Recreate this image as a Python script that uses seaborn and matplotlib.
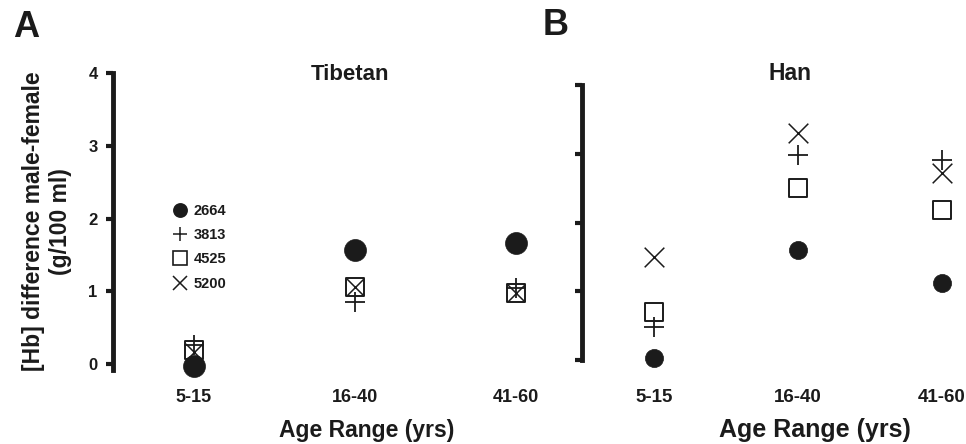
import matplotlib
matplotlib.use("Agg")
import matplotlib.pyplot as plt
from matplotlib.lines import Line2D
import pandas as pd
import seaborn as sns

# values (Hb difference male - female, g/100 ml)
age_groups = ["5-15", "16-40", "41-60"]
alleles = ["2664", "3813", "4525", "5200"]

tibetan_2664 = [-0.03, 1.57, 1.67]
tibetan_3813 = [0.26, 0.86, 1.05]
tibetan_4525 = [0.19, 1.06, 0.98]
tibetan_5200 = [0.17, 1.06, 0.98]

han_2664 = [0.03, 1.60, 1.12]
han_3813 = [0.48, 2.98, 2.91]
han_4525 = [0.70, 2.50, 2.18]
han_5200 = [1.50, 3.30, 2.72]

series = {
    ("Tibetan", "2664"): tibetan_2664,
    ("Tibetan", "3813"): tibetan_3813,
    ("Tibetan", "4525"): tibetan_4525,
    ("Tibetan", "5200"): tibetan_5200,
    ("Han", "2664"): han_2664,
    ("Han", "3813"): han_3813,
    ("Han", "4525"): han_4525,
    ("Han", "5200"): han_5200,
}
rows = []
for (pop, allele), vals in series.items():
    for age, v in zip(age_groups, vals):
        rows.append({"population": pop, "allele": allele, "age": age, "hb_diff": v})
df = pd.DataFrame(rows)

sns.set_theme(style="white")
plt.rcParams["font.family"] = ["Liberation Sans", "DejaVu Sans"]
plt.rcParams["font.weight"] = "bold"

INK = "#1b1b1b"
W, H = 966, 444
fig = plt.figure(figsize=(W / 100, H / 100), dpi=100)

# marker style per allele; drawing order: square, circle, x, plus
styles = {
    "4525": dict(marker="s", facecolor="white", edgecolor=INK, linewidth=1.4),
    "2664": dict(marker="o", facecolor=INK, edgecolor=INK, linewidth=0.5),
    "5200": dict(marker="x", color=INK, linewidth=1.1),
    "3813": dict(marker="+", color=INK, linewidth=1.3),
}
sizes_a = {"2664": 250, "3813": 200, "4525": 150, "5200": 150}
sizes_b = {"2664": 170, "3813": 200, "4525": 168, "5200": 200}


def px_box(left, right, top, bottom):
    return [left / W, 1 - bottom / H, (right - left) / W, (bottom - top) / H]


def draw_panel(ax, pop, sizes):
    sub = df[df["population"] == pop]
    for allele, st in styles.items():
        d = sub[sub["allele"] == allele]
        sns.scatterplot(data=d, x="age", y="hb_diff", s=sizes[allele], ax=ax,
                        legend=False, zorder=3, clip_on=False, **st)
    sns.despine(ax=ax, bottom=True)
    ax.patch.set_alpha(0)
    ax.spines["left"].set_linewidth(3.5)
    ax.spines["left"].set_color(INK)
    ax.tick_params(axis="y", direction="out", length=5, width=3, color=INK, left=True)
    ax.tick_params(axis="x", length=0)
    ax.set_xlabel("")
    ax.set_ylabel("")
    ax.grid(False)


# panel A - Tibetan
ax_a = fig.add_axes(px_box(113, 597, 73, 370))
draw_panel(ax_a, "Tibetan", sizes_a)
ax_a.set_xlim(-0.5, 2.5)
ax_a.set_ylim(-0.08, 4.0)
ax_a.set_yticks([0, 1, 2, 3, 4])
ax_a.set_yticklabels(["0", "1", "2", "3", "4"], fontsize=12, fontweight="bold", color=INK)
ax_a.tick_params(axis="y", pad=6)
ax_a.set_xticks(range(len(age_groups)))
ax_a.set_xticklabels(age_groups, fontsize=13, fontweight="bold", color=INK)
ax_a.tick_params(axis="x", pad=14)
ax_a.set_ylabel("[Hb] difference male-female\n(g/100 ml)", fontsize=16.5,
                fontweight="bold", color=INK, labelpad=12)

# panel B - Han
ax_b = fig.add_axes(px_box(582, 1014, 85, 360))
draw_panel(ax_b, "Han", sizes_b)
ax_b.set_xlim(-0.5, 2.5)
ax_b.set_ylim(0, 4)
ax_b.set_yticks([0, 1, 2, 3, 4])
ax_b.set_yticklabels([])
ax_b.set_xticks(range(len(age_groups)))
ax_b.set_xticklabels(age_groups, fontsize=13.5, fontweight="bold", color=INK)
ax_b.tick_params(axis="x", pad=21)

# legend inside panel A
handles = []
for allele in alleles:
    st = styles[allele]
    if st["marker"] in ("o", "s"):
        h = Line2D([], [], linestyle="none", marker=st["marker"], markersize=9.5,
                   markerfacecolor=st["facecolor"], markeredgecolor=INK,
                   markeredgewidth=1.2)
    else:
        h = Line2D([], [], linestyle="none", marker=st["marker"], markersize=10,
                   color=INK, markeredgewidth=1.1)
    handles.append(h)
fig.legend(handles, alleles, loc="upper left", bbox_to_anchor=(173 / W, 1 - 204 / H),
           frameon=False, borderpad=0, borderaxespad=0, handlelength=1.0,
           handletextpad=0.4, labelspacing=0.7,
           prop={"size": 10.5, "weight": "bold"}, labelcolor=INK)

# titles, axis labels and panel letters
fig.text(350 / W, 1 - 80 / H, "Tibetan", ha="center", va="baseline",
         fontsize=16, fontweight="bold", color=INK)
fig.text(790 / W, 1 - 80 / H, "Han", ha="center", va="baseline",
         fontsize=16.5, fontweight="bold", color=INK)
fig.text(367 / W, 1 - 437 / H, "Age Range (yrs)", ha="center", va="baseline",
         fontsize=16.5, fontweight="bold", color=INK)
fig.text(815 / W, 1 - 437 / H, "Age Range (yrs)", ha="center", va="baseline",
         fontsize=18, fontweight="bold", color=INK)
fig.text(13 / W, 1 - 37 / H, "A", ha="left", va="baseline",
         fontsize=26, fontweight="bold", color=INK)
fig.text(543 / W, 1 - 35 / H, "B", ha="left", va="baseline",
         fontsize=26, fontweight="bold", color=INK)

fig.savefig("out.png", dpi=100)
